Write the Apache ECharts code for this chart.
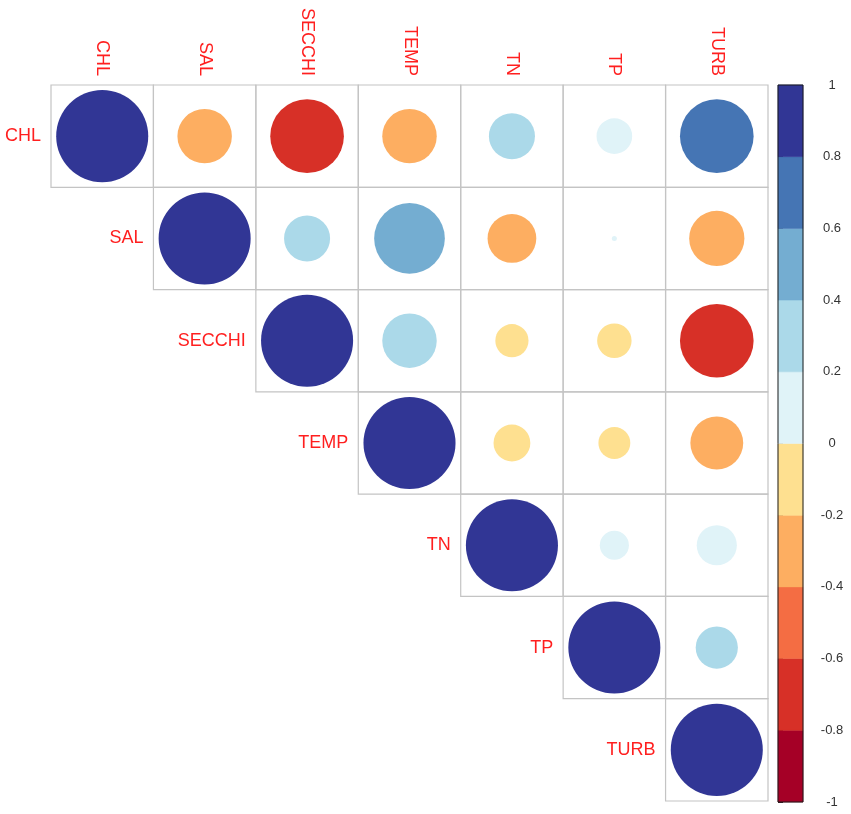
<!DOCTYPE html>
<html>
<head>
<meta charset="utf-8">
<script src="https://cdn.jsdelivr.net/npm/echarts@6/dist/echarts.min.js"></script>
<style>
html,body{margin:0;padding:0;background:#fff;}
#chart{width:851px;height:814px;}
</style>
</head>
<body>
<div id="chart"></div>
<script>
// ---- data ----
const variables = ['CHL', 'SAL', 'SECCHI', 'TEMP', 'TN', 'TP', 'TURB'];
// upper-triangle correlation rows (starting at the diagonal)
const rowCHL    = [1, -0.35, -0.64, -0.35, 0.25, 0.15, 0.64];
const rowSAL    = [1, 0.25, 0.59, -0.28, 0.003, -0.36];
const rowSECCHI = [1, 0.35, -0.13, -0.14, -0.64];
const rowTEMP   = [1, -0.16, -0.12, -0.33];
const rowTN     = [1, 0.10, 0.19];
const rowTP     = [1, 0.21];
const rowTURB   = [1];
const legendBreaks = [-1, -0.8, -0.6, -0.4, -0.2, 0, 0.2, 0.4, 0.6, 0.8, 1];

// ---- styles ----
const bandColors = ['#A50026', '#D73027', '#F46D43', '#FDAE61', '#FEE090',
                    '#E0F3F8', '#ABD9E9', '#74ADD1', '#4575B4', '#313695'];
const FONT = 'Liberation Sans, Arial, sans-serif';
const LABEL_RED = '#FF1F1F';

const rows = [rowCHL, rowSAL, rowSECCHI, rowTEMP, rowTN, rowTP, rowTURB];
const cellData = [];
rows.forEach((row, i) => row.forEach((v, k) => cellData.push([i + k, i, v])));

const bands = [];
for (let i = 0; i < legendBreaks.length - 1; i++) bands.push([legendBreaks[i], legendBreaks[i + 1], i]);

const pieces = bands.map((b, i) => (i === bands.length - 1
  ? { gte: b[0], lte: b[1], color: bandColors[i] }
  : { gte: b[0], lt: b[1], color: bandColors[i] }));

const chart = echarts.init(document.getElementById('chart'), null, { renderer: 'canvas' });

chart.setOption({
  backgroundColor: '#fff',
  animation: false,
  grid: [
    { left: 51, top: 85, width: 717, height: 716 },
    { left: 778, top: 85, width: 25, height: 717 }
  ],
  xAxis: [
    {
      gridIndex: 0, type: 'category', data: variables, position: 'top',
      axisLine: { show: false }, axisTick: { show: false }, splitLine: { show: false },
      axisLabel: { rotate: 90, margin: 9, interval: 0, color: LABEL_RED, fontSize: 18, fontFamily: FONT }
    },
    { gridIndex: 1, type: 'value', min: 0, max: 1, show: false }
  ],
  yAxis: [
    { gridIndex: 0, type: 'category', data: variables, inverse: true, show: false },
    {
      gridIndex: 1, type: 'value', min: -1, max: 1, interval: 0.2, position: 'right',
      axisLine: { show: false }, splitLine: { show: false },
      axisTick: { show: true, length: 5, lineStyle: { color: '#222', width: 1 } },
      axisLabel: { margin: 29, align: 'center', color: '#333', fontSize: 13, fontFamily: FONT }
    }
  ],
  visualMap: {
    type: 'piecewise', show: false, seriesIndex: 0, dimension: 2, pieces: pieces
  },
  series: [
    {
      type: 'custom', xAxisIndex: 0, yAxisIndex: 0, data: cellData,
      renderItem: function (params, api) {
        const col = api.value(0), row = api.value(1), v = api.value(2);
        const c = api.coord([col, row]);
        const s = api.size([1, 1]);
        const w = s[0], h = s[1];
        const children = [
          {
            type: 'rect',
            shape: { x: c[0] - w / 2, y: c[1] - h / 2, width: w, height: h },
            style: { fill: 'none', stroke: '#C4C4C4', lineWidth: 1.2 }
          },
          {
            type: 'circle',
            shape: { cx: c[0], cy: c[1], r: 0.45 * Math.min(w, h) * Math.sqrt(Math.abs(v)) },
            style: { fill: api.visual('color') }
          }
        ];
        if (col === row) {
          children.push({
            type: 'text',
            style: {
              text: variables[row], x: c[0] - w / 2 - 10, y: c[1],
              align: 'right', verticalAlign: 'middle',
              fill: LABEL_RED, fontSize: 18, fontFamily: FONT
            }
          });
        }
        return { type: 'group', children: children };
      }
    },
    {
      type: 'custom', xAxisIndex: 1, yAxisIndex: 1, data: bands,
      renderItem: function (params, api) {
        const p0 = api.coord([0, api.value(1)]);
        const p1 = api.coord([1, api.value(0)]);
        return {
          type: 'rect',
          shape: { x: p0[0], y: p0[1], width: p1[0] - p0[0], height: p1[1] - p0[1] },
          style: { fill: bandColors[api.value(2)], stroke: bandColors[api.value(2)], lineWidth: 0.5 }
        };
      }
    },
    {
      type: 'custom', xAxisIndex: 1, yAxisIndex: 1, data: [[legendBreaks[0], legendBreaks[legendBreaks.length - 1]]],
      z: 5,
      renderItem: function (params, api) {
        const p0 = api.coord([0, api.value(1)]);
        const p1 = api.coord([1, api.value(0)]);
        return {
          type: 'rect',
          shape: { x: p0[0], y: p0[1], width: p1[0] - p0[0], height: p1[1] - p0[1] },
          style: { fill: 'none', stroke: '#1a1a1a', lineWidth: 1 }
        };
      }
    }
  ]
});
</script>
</body>
</html>
